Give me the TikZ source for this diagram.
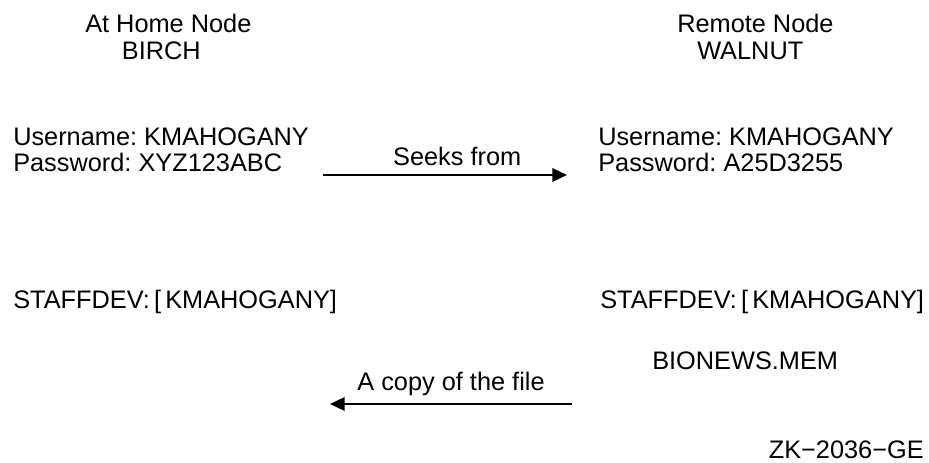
\documentclass[tikz,border=0pt]{standalone}
\usepackage{fontspec}
\setmainfont{Liberation Sans}
\usetikzlibrary{arrows.meta}

\begin{document}
\frenchspacing
\begin{tikzpicture}[
            x=0.75pt, y=-0.75pt,
            every node/.style={font=\fontsize{19}{19.5}\selectfont, inner sep=0pt},
            head/.style={align=left, anchor=base west, font=\fontsize{19}{20.25}\selectfont},
            acct/.style={align=left, anchor=base west},
            flow/.style={-{Triangle[length=11pt, width=10pt]}, line width=1.8pt}
        ]
            \useasboundingbox (0,0) rectangle (929,463);

            % the two systems (base = last line)
            \node[head] (home) at (85,60) {At Home Node\\\hspace*{27.5pt}BIRCH};
            \node[head] (remote) at (677,60) {Remote Node\\\hspace*{15pt}WALNUT};

            \node[acct] (homeacct) at (13,172) {Username: KMAHOGANY\\Password: XYZ123ABC};
            \node[acct] (remoteacct) at (598,172) {Username: KMAHOGANY\\Password: A25D3255};

            \node[acct] (homedir) at (13,309) {STAFFDEV:\thinspace[\thinspace KMAHOGANY]};
            \node[acct] (remotedir) at (600,309) {STAFFDEV:\thinspace[\thinspace KMAHOGANY]};
            \node[acct] (bionews) at (652,370) {BIONEWS.MEM};

            \coordinate (seekA) at (323,175);
            \coordinate (seekB) at (567,175);
            \coordinate (copyA) at (572,404);
            \coordinate (copyB) at (330,404);

            \draw[flow] (seekA) -- (seekB) node[pos=0.55, anchor=base, yshift=7pt] {Seeks from};
            \draw[flow] (copyA) -- (copyB) node[pos=0.5, anchor=base, yshift=9.75pt] {A copy of the file};

            \node[anchor=base east] (figid) at (924,459) {ZK−2036−GE};
        \end{tikzpicture}
\end{document}
